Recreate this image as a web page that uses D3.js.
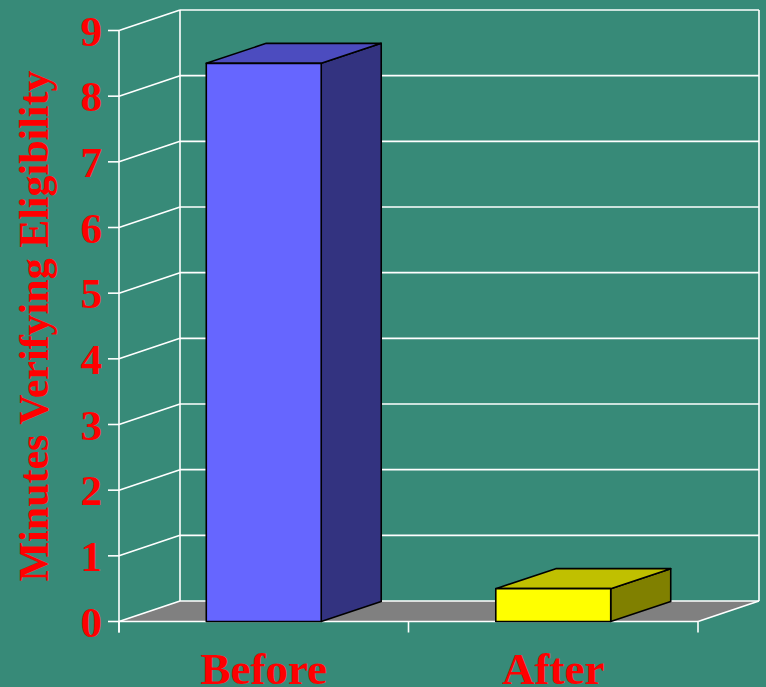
<!DOCTYPE html>
<html>
<head>
<meta charset="utf-8">
<script src="https://cdn.jsdelivr.net/npm/d3@7/dist/d3.min.js"></script>
<style>
html,body{margin:0;padding:0;background:#378A78;}
svg{display:block;}
</style>
</head>
<body>
<svg id="chart" width="766" height="687"></svg>
<script>
const categories = ["Before", "After"];
const values = [8.5, 0.5];
const yTicks = [0, 1, 2, 3, 4, 5, 6, 7, 8, 9];
const yTitle = "Minutes Verifying Eligibility";
const frontColors = ["#6666FF", "#FFFF00"];
const topColors = ["#4C4CBF", "#C0C000"];
const sideColors = ["#333380", "#808000"];

const W = 766, H = 687;
const svg = d3.select("#chart");
svg.append("rect").attr("width", W).attr("height", H).attr("fill", "#378A78");

const x0 = 119, x1 = 698;
const y = d3.scaleLinear().domain([0, 9]).range([621.5, 30.5]);
const x = d3.scaleBand().domain(categories).range([x0, x1]).padding(0);
const DX = 61, DY = -20.5;         // wall depth offset
const BDX = 60, BDY = -20;         // bar depth offset
const barFrac = 0.397;

const white = "#FFFFFF";
const gw = 1.6;

// floor
svg.append("polygon")
  .attr("points", [[x0, y(0)], [x1, y(0)], [x1 + DX, y(0) + DY], [x0 + DX, y(0) + DY]].map(p => p.join(",")).join(" "))
  .attr("fill", "#808080");

// back wall gridlines
svg.append("g").selectAll("line").data(yTicks).join("line")
  .attr("x1", x0 + DX).attr("x2", x1 + DX)
  .attr("y1", d => y(d) + DY).attr("y2", d => y(d) + DY)
  .attr("stroke", white).attr("stroke-width", gw);
// left wall diagonals
svg.append("g").selectAll("line").data(yTicks).join("line")
  .attr("x1", x0).attr("x2", x0 + DX)
  .attr("y1", d => y(d)).attr("y2", d => y(d) + DY)
  .attr("stroke", white).attr("stroke-width", gw);
// back wall verticals
[x0 + DX, x1 + DX].forEach(xx => {
  svg.append("line").attr("x1", xx).attr("x2", xx)
    .attr("y1", y(9) + DY).attr("y2", y(0) + DY)
    .attr("stroke", white).attr("stroke-width", gw);
});
// floor right diagonal
svg.append("line").attr("x1", x1).attr("y1", y(0)).attr("x2", x1 + DX).attr("y2", y(0) + DY)
  .attr("stroke", white).attr("stroke-width", gw);
// front floor edge
svg.append("line").attr("x1", x0).attr("x2", x1).attr("y1", y(0)).attr("y2", y(0))
  .attr("stroke", white).attr("stroke-width", gw);

// y axis line
svg.append("line").attr("x1", x0).attr("x2", x0).attr("y1", y(9)).attr("y2", y(0) + 11)
  .attr("stroke", white).attr("stroke-width", gw);
// y ticks
svg.append("g").selectAll("line").data(yTicks).join("line")
  .attr("x1", x0 - 11).attr("x2", x0)
  .attr("y1", d => y(d)).attr("y2", d => y(d))
  .attr("stroke", white).attr("stroke-width", gw);
// x ticks at band boundaries
const xTickPos = categories.map(c => x(c)).concat([x1]);
svg.append("g").selectAll("line").data(xTickPos).join("line")
  .attr("x1", d => d).attr("x2", d => d)
  .attr("y1", y(0)).attr("y2", y(0) + 11)
  .attr("stroke", white).attr("stroke-width", gw);

// bars
const bars = svg.append("g");
categories.forEach((c, i) => {
  const bw = x.bandwidth() * barFrac;
  const bx = x(c) + (x.bandwidth() - bw) / 2;
  const by = y(values[i]);
  const b0 = y(0);
  const g = bars.append("g").attr("stroke", "#000").attr("stroke-width", 1.6).attr("stroke-linejoin", "round");
  // side
  g.append("polygon")
    .attr("points", [[bx + bw, b0], [bx + bw + BDX, b0 + BDY], [bx + bw + BDX, by + BDY], [bx + bw, by]].map(p => p.join(",")).join(" "))
    .attr("fill", sideColors[i]);
  // top
  g.append("polygon")
    .attr("points", [[bx, by], [bx + BDX, by + BDY], [bx + bw + BDX, by + BDY], [bx + bw, by]].map(p => p.join(",")).join(" "))
    .attr("fill", topColors[i]);
  // front
  g.append("rect").attr("x", bx).attr("y", by).attr("width", bw).attr("height", b0 - by)
    .attr("fill", frontColors[i]);
});

const font = "'Liberation Serif','Times New Roman',serif";
// y labels
svg.append("g").selectAll("text").data(yTicks).join("text")
  .attr("x", 102).attr("y", d => y(d))
  .attr("dy", "0.35em")
  .attr("text-anchor", "end")
  .attr("font-family", font).attr("font-weight", "bold").attr("font-size", 43)
  .attr("fill", "#FF0000")
  .text(d => d);

// x labels
svg.append("g").selectAll("text").data(categories).join("text")
  .attr("x", d => x(d) + x.bandwidth() / 2).attr("y", 684)
  .attr("text-anchor", "middle")
  .attr("font-family", font).attr("font-weight", "bold").attr("font-size", 45)
  .attr("fill", "#FF0000")
  .text(d => d);

// y title
svg.append("text")
  .attr("transform", "translate(48,326) rotate(-90)")
  .attr("text-anchor", "middle")
  .attr("font-family", font).attr("font-weight", "bold").attr("font-size", 42)
  .attr("fill", "#FF0000")
  .text(yTitle);
</script>
</body>
</html>
